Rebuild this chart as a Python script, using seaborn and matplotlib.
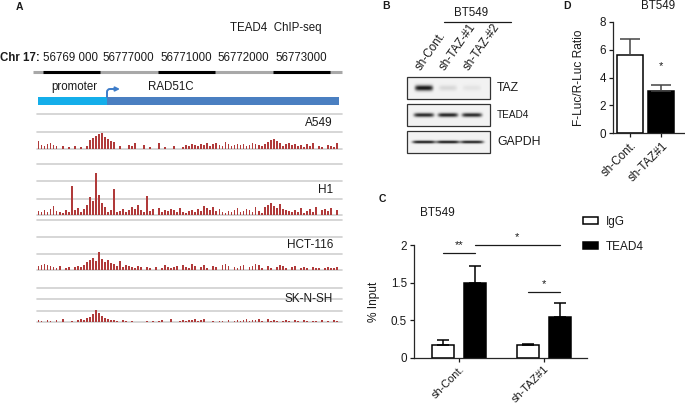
import matplotlib
matplotlib.use("Agg")
import matplotlib.pyplot as plt
from matplotlib.patches import Rectangle, Patch
import numpy as np
import pandas as pd
import seaborn as sns

# panel A: TEAD4 ChIP-seq around RAD51C (signal height per bin)
chr_label = "Chr 17:"
coord_labels = ["56769 000", "56777000", "56771000", "56772000", "56773000"]
track_names = ["A549", "H1", "HCT-116", "SK-N-SH"]
a549 = [8, 4, 3, 5, 6, 4, 3, 0, 3, 0, 2, 0, 3, 0, 2, 0, 3,
        9, 11, 13, 15, 16, 12, 10, 8, 7, 0, 3, 0, 0, 4, 3, 6, 0, 0,
        4, 0, 2, 0, 0, 6, 0, 2, 0, 0, 3, 0, 0, 2,
        4, 3, 5, 4, 3, 5, 4, 6, 3, 5, 6, 4, 3, 7, 5, 3, 4,
        5, 4, 5, 3, 4, 6, 5, 4, 3, 5, 7, 9, 10, 8, 6,
        3, 5, 6, 4, 5, 3, 4, 2, 5, 3, 6, 0, 3, 2, 0, 4, 3, 2, 6]
h1 = [4, 3, 5, 3, 6, 9, 4, 3, 2, 5, 3, 29, 5, 7, 3, 6,
      10, 18, 14, 42, 20, 12, 8, 3, 5, 26, 3, 4, 6, 3, 5,
      8, 6, 10, 5, 3, 19, 4, 6, 0, 7, 3, 5, 4, 6, 5, 3, 7,
      3, 2, 4, 5, 3, 6, 4, 9, 7, 5, 8, 4, 6, 3, 2, 4, 3, 5, 7, 3,
      4, 6, 5, 3, 8, 4, 2, 8, 10, 12, 9, 7, 11, 6, 5, 4, 3,
      5, 3, 7, 2, 4, 6, 3, 8, 0, 5, 6, 4, 7, 0, 5]
hct116 = [4, 5, 6, 5, 4, 3, 2, 4, 0, 2, 3, 0, 3, 4, 3, 5,
          8, 10, 12, 9, 18, 11, 8, 10, 7,
          6, 4, 9, 3, 5, 4, 3, 2, 4, 3, 0, 3, 2, 0, 3,
          0, 2, 5, 3, 2, 3, 4, 0, 5, 3, 2, 6, 4, 0, 3, 5, 2, 0, 4, 3,
          0, 5, 6, 4, 0, 3, 2, 4, 5, 0, 3, 4, 6, 5, 2, 0, 4, 2, 0, 3,
          5, 4, 2, 0, 3, 4, 0, 2, 3, 2, 0, 3, 2, 2, 0, 2, 3, 2, 2, 3]
sknsh = [2, 1, 0, 2, 1, 0, 2, 0, 3, 0, 0, 1, 0, 2, 3, 2,
         4, 5, 8, 12, 9, 6, 4, 3, 2, 2,
         1, 0, 2, 1, 0, 1, 0, 0, 0, 0, 1, 0, 1, 0, 1, 2, 0, 0, 3, 0,
         0, 1, 2, 1, 2, 2, 3, 1, 2, 3, 0, 0, 1, 0, 1, 1, 0, 2, 0, 1,
         2, 1, 2, 3, 1, 2, 2, 3, 1, 0, 3, 1, 2, 1, 0, 1, 2, 1, 0, 2,
         1, 0, 2, 1, 0, 1, 1, 0, 2, 0, 1, 0, 2, 1]

# panel B: western blot, band strength per lane
lanes = ["sh-Cont.", "sh-TAZ-#1", "sh-TAZ-#2"]
blot_rows = ["TAZ", "TEAD4", "GAPDH"]
taz_bands = [1.0, 0.12, 0.07]
tead4_bands = [0.9, 0.92, 0.9]
gapdh_bands = [0.95, 0.95, 0.92]

# panel C: ChIP-qPCR, % input
c_groups = ["sh-Cont.", "sh-TAZ#1"]
c_antibodies = ["IgG", "TEAD4"]
igg_mean = [0.17, 0.17]
igg_sd = [0.07, 0.02]
tead4_mean = [1.5, 0.6]
tead4_sd = [0.22, 0.36]

# panel D: luciferase reporter
d_groups = ["sh-Cont.", "sh-TAZ#1"]
d_mean = [5.65, 3.03]
d_sd = [1.1, 0.43]

sns.set_style("ticks")
plt.rcParams["font.family"] = ["Liberation Sans", "DejaVu Sans"]
plt.rcParams["axes.linewidth"] = 0.9
INK = "#1a1a1a"
RED = "#b03a3a"
W, H = 685, 405
TICK_FS = 8.4

fig = plt.figure(figsize=(6.85, 4.05), dpi=100)
cv = fig.add_axes([0, 0, 1, 1])
cv.set_xlim(0, W)
cv.set_ylim(H, 0)
cv.axis("off")

# ---------------- A
cv.text(16, 7, "A", fontsize=7.5, fontweight="bold", va="center", color=INK)
cv.text(230, 28, "TEAD4  ChIP-seq", fontsize=8.3, va="center", color=INK)
cv.text(0, 58, chr_label, fontsize=8.3, fontweight="bold", va="center", color=INK)
seg = 57.5
for i, lab in enumerate(coord_labels):
    cv.text(71 + seg * i, 58, lab, fontsize=8.3, ha="center", va="center", color=INK)
cv.plot([33, 342], [72, 72], color="#a8a8a8", lw=2.2, solid_capstyle="butt")
for i in range(0, len(coord_labels), 2):
    cv.plot([43 + seg * i, 43 + seg * (i + 1)], [72, 72], color="black", lw=2.2,
            solid_capstyle="butt")

cv.text(51, 87, "promoter", fontsize=8.3, va="center", color=INK)
cv.text(148, 87, "RAD51C", fontsize=8.3, va="center", color=INK)
cv.add_patch(Rectangle((38, 97), 69, 8, facecolor="#14aeea", edgecolor="none"))
cv.add_patch(Rectangle((107, 97), 232, 8, facecolor="#4a7fc1", edgecolor="none"))
cv.annotate("", xy=(120, 89), xytext=(107, 97),
            arrowprops=dict(arrowstyle="-|>", color="#3d7cc9", lw=1.4, mutation_scale=6,
                            shrinkA=0, shrinkB=0,
                            connectionstyle="angle,angleA=90,angleB=0,rad=3"))

track_lines = [[114, 132, 149], [164, 181, 199, 215], [220, 237, 254, 270], [288, 299, 311, 322]]
label_y = [123, 190, 245, 299]
for name, sig, lines, ly in zip(track_names, [a549, h1, hct116, sknsh], track_lines, label_y):
    for yl in lines:
        cv.plot([37, 342], [yl, yl], color="#cfcfcf", lw=1.2, zorder=1)
    xs = np.linspace(38.5, 337, len(sig))
    cv.bar(xs, -np.asarray(sig, float), width=1.8, bottom=lines[-1], color=RED,
           edgecolor="none", zorder=2)
    cv.text(333, ly, name, fontsize=8.5, ha="right", va="center", color=INK, zorder=3)

# ---------------- B
cv.text(386, 6, "B", fontsize=7.5, fontweight="bold", va="center", ha="center", color=INK)
cv.text(471, 13, "BT549", fontsize=8.3, ha="center", va="center", color=INK)
cv.plot([444, 511], [22, 22], color=INK, lw=0.9)
box_x0, box_w, box_h = 407, 83, 22
box_tops = [77, 104, 131]
band_w = [18, 20, 23]
band_s = [2.0, 1.5, 1.1]
lane_x = [box_x0 + 17 + 24 * i for i in range(len(lanes))]
for lx, lab in zip(lane_x, lanes):
    cv.text(lx - 3, 71, lab, fontsize=8.4, rotation=55, rotation_mode="anchor",
            ha="left", va="baseline", color=INK)
xx = np.arange(box_w) + 0.5
yy = np.arange(box_h) + 0.5
for row, bands, top, bw, bs in zip(blot_rows, [taz_bands, tead4_bands, gapdh_bands],
                                   box_tops, band_w, band_s):
    dens = np.zeros((box_h, box_w))
    gy = np.exp(-0.5 * ((yy - box_h / 2) / bs) ** 2)
    for lx, a in zip(lane_x, bands):
        gx = np.exp(-(((xx - (lx - box_x0)) / (bw / 2)) ** 6))
        dens += a * np.outer(gy, gx)
    img = 0.95 - 0.85 * np.clip(dens, 0, 1)
    cv.imshow(img, cmap="gray", vmin=0, vmax=1, aspect="auto", interpolation="bilinear",
              extent=(box_x0, box_x0 + box_w, top + box_h, top), zorder=2)
    cv.add_patch(Rectangle((box_x0, top), box_w, box_h, facecolor="none",
                           edgecolor="#333333", lw=0.9, zorder=3))
    cv.text(497, top + box_h / 2, row, fontsize=7.2 if row == "TEAD4" else 8.8,
            va="center", color=INK)
cv.set_xlim(0, W)
cv.set_ylim(H, 0)

# ---------------- C
def c_fwd(v):
    v = np.asarray(v, dtype=float)
    return np.where(v <= 0.5, v, np.where(v <= 1.5, 0.5 + (v - 0.5) * 0.5, v - 0.5))


def c_inv(p):
    p = np.asarray(p, dtype=float)
    return np.where(p <= 0.5, p, np.where(p <= 1.0, 0.5 + (p - 0.5) * 2, p + 0.5))


df_c = pd.DataFrame({
    "group": c_groups * 2,
    "antibody": [c_antibodies[0]] * 2 + [c_antibodies[1]] * 2,
    "value": igg_mean + tead4_mean,
})
ax_c = fig.add_axes([414 / W, 1 - 358 / H, 173 / W, 113 / H])
sns.barplot(data=df_c, x="group", y="value", hue="antibody", hue_order=c_antibodies,
            palette={"IgG": "white", "TEAD4": "black"}, edgecolor="black", linewidth=1.1,
            width=0.76, gap=0.31, errorbar=None, legend=False, ax=ax_c)
ax_c.set_yscale("function", functions=(c_fwd, c_inv))
centers = []
for cont, m, s in zip(ax_c.containers, [igg_mean, tead4_mean], [igg_sd, tead4_sd]):
    xc = [b.get_x() + b.get_width() / 2 for b in cont]
    centers.append(xc)
    ax_c.errorbar(xc, m, yerr=[np.zeros(len(s)), s], fmt="none", ecolor="black",
                  elinewidth=1.1, capsize=4.3, capthick=1.1, zorder=3)
ax_c.set_xlim(-0.53, 1.51)
ax_c.set_ylim(0, 2)
ax_c.set_yticks([0, 0.5, 1.5, 2])
ax_c.set_yticklabels(["0", "0.5", "1.5", "2"])
ax_c.set_xlabel("")
ax_c.set_ylabel("% Input", fontsize=8.6, color=INK)
ax_c.yaxis.set_label_coords((380 - 414) / 173, 0.5)
ax_c.tick_params(axis="both", length=3, width=0.9, labelsize=TICK_FS, colors=INK, pad=2)
ax_c.tick_params(axis="x", labelsize=7.9, pad=1)
plt.setp(ax_c.get_xticklabels(), rotation=45, ha="right", rotation_mode="anchor")
sns.despine(ax=ax_c)


def sig_bar(ax, x1, x2, y, mark):
    ax.plot([x1, x2], [y, y], color=INK, lw=0.9, clip_on=False)
    ax.annotate(mark, xy=((x1 + x2) / 2, y), xytext=(0, 2), textcoords="offset points",
                ha="center", va="bottom", fontsize=8, color=INK, annotation_clip=False)


sig_bar(ax_c, centers[0][0], centers[1][0], 1.89, "**")
sig_bar(ax_c, centers[1][0], centers[1][1], 2.0, "*")
sig_bar(ax_c, centers[0][1], centers[1][1], 1.26, "*")
cv.text(382, 199, "C", fontsize=7.5, fontweight="bold", va="center", ha="center", color=INK)
cv.text(437, 213, "BT549", fontsize=8.5, ha="center", va="center", color=INK)
handles = [Patch(facecolor="white", edgecolor="black", lw=1.1),
           Patch(facecolor="black", edgecolor="black", lw=1.1)]
ax_c.legend(handles, c_antibodies, loc="upper left", bbox_to_anchor=(583 / W, 1 - 216 / H),
            bbox_transform=fig.transFigure, frameon=False, fontsize=8.5, handlelength=1.3,
            handleheight=0.55, labelspacing=1.1, handletextpad=0.6, borderpad=0,
            borderaxespad=0, labelcolor=INK)

# ---------------- D
ax_d = fig.add_axes([613 / W, 1 - 133 / H, 72 / W, 111 / H])
sns.barplot(x=d_groups, y=d_mean, hue=d_groups, palette=["white", "black"], edgecolor="black",
            linewidth=1.1, width=0.83, errorbar=None, legend=False, ax=ax_d)
d_x = [b.get_x() + b.get_width() / 2 for cont in ax_d.containers for b in cont]
ax_d.errorbar(d_x, d_mean, yerr=[np.zeros(len(d_sd)), d_sd], fmt="none", ecolor="#444444",
              elinewidth=1.1, capsize=7, capthick=1.1, zorder=3)
ax_d.annotate("*", xy=(d_x[1], d_mean[1] + d_sd[1]), xytext=(0, 10), textcoords="offset points",
              ha="center", va="bottom", fontsize=8, color=INK)
ax_d.set_xlim(-0.54, 1.75)
ax_d.set_ylim(0, 8)
ax_d.set_yticks([0, 2, 4, 6, 8])
ax_d.set_ylabel("F-Luc/R-Luc Ratio", fontsize=8.6, color=INK)
ax_d.yaxis.set_label_coords((585 - 613) / 72, 0.5)
ax_d.tick_params(axis="both", length=3, width=0.9, labelsize=TICK_FS, colors=INK, pad=2)
plt.setp(ax_d.get_xticklabels(), rotation=45, ha="right", rotation_mode="anchor")
sns.despine(ax=ax_d)
cv.text(567, 6, "D", fontsize=7.5, fontweight="bold", va="center", ha="center", color=INK)
cv.text(658, 6, "BT549", fontsize=8.3, ha="center", va="center", color=INK)

fig.savefig("out.png", dpi=100)
